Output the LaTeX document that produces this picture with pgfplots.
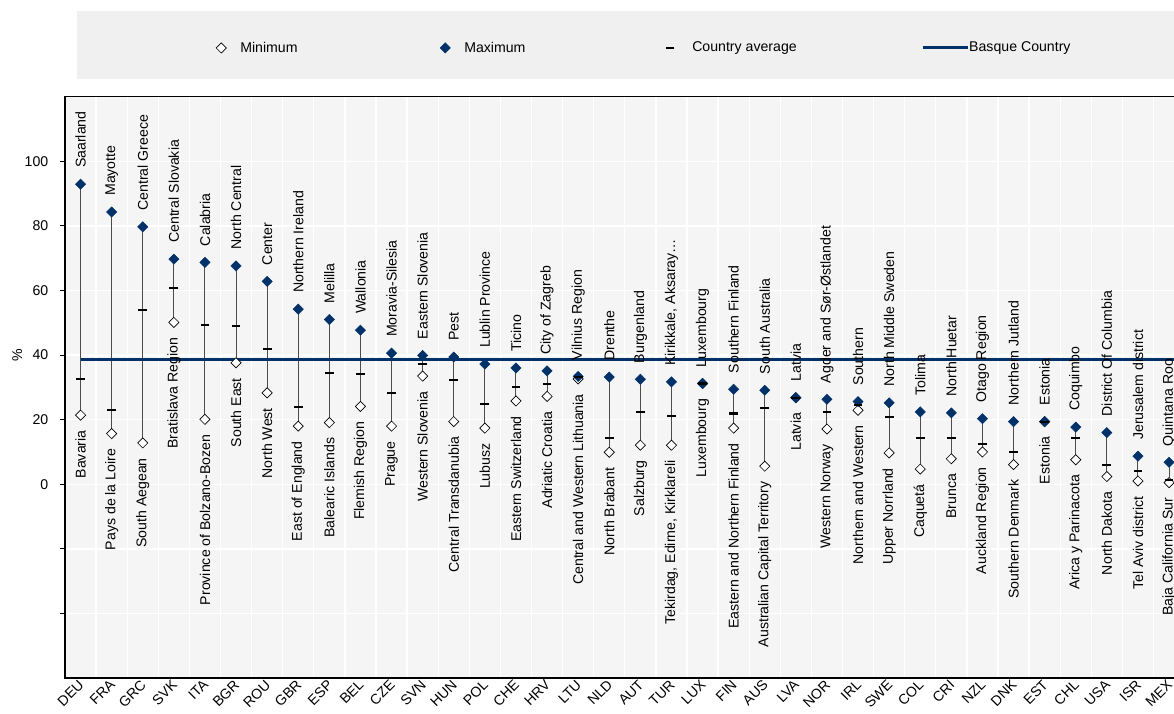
\documentclass[border=0pt]{standalone}
\usepackage{pgfplots}
\pgfplotsset{compat=1.18}
\usepackage{pgfplotstable}
\usepackage{fontspec}
\setmainfont{Liberation Sans}
\usetikzlibrary{backgrounds}

\definecolor{navy}{RGB}{0,50,105}
\definecolor{plotbg}{RGB}{245,245,245}
\definecolor{legbg}{RGB}{240,240,240}
\newcommand\lab{\fontsize{10.6}{12}\selectfont}

% min / country average / max per country, with region names
\pgfplotstableread[col sep=semicolon, row sep=\\]{
i;code;min;avg;max;minlab;maxlab\\
0;DEU;21.4;32.5;92.9;Bavaria;Saarland\\
1;FRA;15.7;23.0;84.3;Pays de la Loire;Mayotte\\
2;GRC;12.8;54.0;79.7;South Aegean;Central Greece\\
3;SVK;50.1;60.7;69.7;Bratislava Region;Central Slovakia\\
4;ITA;20.1;49.4;68.7;Province of Bolzano-Bozen;Calabria\\
5;BGR;37.6;49.0;67.6;South East;North Central\\
6;ROU;28.3;41.9;62.8;North West;Center\\
7;GBR;18.0;23.9;54.2;East of England;Northern Ireland\\
8;ESP;19.1;34.4;51.0;Balearic Islands;Melilla\\
9;BEL;24.1;34.1;47.7;Flemish Region;Wallonia\\
10;CZE;18.0;28.2;40.6;Prague;Moravia-Silesia\\
11;SVN;33.5;37.2;39.9;Western Slovenia;Eastern Slovenia\\
12;HUN;19.4;32.4;39.4;Central Transdanubia;Pest\\
13;POL;17.4;24.9;37.2;Lubusz;Lublin Province\\
14;CHE;25.8;30.1;36.0;Eastern Switzerland;Ticino\\
15;HRV;27.2;31.0;35.1;Adriatic Croatia;City of Zagreb\\
16;LTU;32.6;33.1;33.4;Central and Western Lithuania;Vilnius Region\\
17;NLD;9.9;14.4;33.2;North Brabant;Drenthe\\
18;AUT;12.1;22.5;32.5;Salzburg;Burgenland\\
19;TUR;12.1;21.1;31.7;Tekirdag, Edirne, Kirklareli;Kirikkale, Aksaray…\\
20;LUX;31.2;31.2;31.2;Luxembourg;Luxembourg\\
21;FIN;17.4;21.9;29.4;Eastern and Northern Finland;Southern Finland\\
22;AUS;5.6;23.5;29.1;Australian Capital Territory;South Australia\\
23;LVA;26.8;26.8;26.8;Latvia;Latvia\\
24;NOR;17.1;22.3;26.3;Western Norway;Agder and Sør-Østlandet\\
25;IRL;22.9;24.5;25.6;Northern and Western;Southern\\
26;SWE;9.7;20.8;25.2;Upper Norrland;North Middle Sweden\\
27;COL;4.7;14.4;22.4;Caquetá;Tolima\\
28;CRI;7.9;14.3;22.1;Brunca;North Huetar\\
29;NZL;10.0;12.4;20.3;Auckland Region;Otago Region\\
30;DNK;6.1;9.9;19.4;Southern Denmark;Northern Jutland\\
31;EST;19.4;19.4;19.4;Estonia;Estonia\\
32;CHL;7.6;14.4;17.7;Arica y Parinacota;Coquimbo\\
33;USA;2.4;6.0;16.0;North Dakota;District Of Columbia\\
34;ISR;1.0;4.2;8.7;Tel Aviv district;Jerusalem district\\
35;MEX;0.5;1.4;6.8;Baja California Sur;Quintana Roo\\
}\data

\pgfplotsset{
  minleg/.style={legend image code/.code={\path[draw=none,fill=none] (0pt,-4pt) rectangle (20pt,4pt);
      \draw[only marks, mark=square*, mark size=2.7pt,
        mark options={rotate=45, fill=white, draw=black, line width=0.5pt}]
        plot coordinates {(5.75pt,0pt)};}},
  maxleg/.style={legend image code/.code={\path[draw=none,fill=none] (0pt,-4pt) rectangle (20pt,4pt);
      \draw[only marks, mark=square*, mark size=2.7pt,
        mark options={rotate=45, fill=navy, draw=navy}]
        plot coordinates {(5.75pt,0pt)};}},
  avgleg/.style={legend image code/.code={\path[draw=none,fill=none] (0pt,-4pt) rectangle (20pt,4pt);
      \draw[only marks, mark=-, mark size=3pt, mark options={line width=1.6pt, black}]
        plot coordinates {(3.5pt,0pt)};}},
  basleg/.style={legend image code/.code={\draw[navy, line width=2.2pt] (0pt,0pt) -- (33.75pt,0pt);}},
}

\begin{document}
\begin{tikzpicture}
\begin{axis}[
    x=23.325pt, y=2.4225pt,
    xmin=-0.5, xmax=35.5, ymin=-60, ymax=120,
    axis background/.style={fill=plotbg},
    axis line style={line width=0.9pt},
    xtick={0,...,35},
    xticklabels={DEU,FRA,GRC,SVK,ITA,BGR,ROU,GBR,ESP,BEL,CZE,SVN,HUN,POL,CHE,HRV,LTU,NLD,AUT,TUR,LUX,FIN,AUS,LVA,NOR,IRL,SWE,COL,CRI,NZL,DNK,EST,CHL,USA,ISR,MEX},
    xtick style={draw=none},
    minor xtick={0.5,1.5,...,34.5},
    minor tick length=0pt,
    xminorgrids=true,
    minor x grid style={white, line width=1pt},
    ytick={-40,-20,0,20,40,60,80,100},
    yticklabels={,,0,20,40,60,80,100},
    ymajorgrids=true,
    y grid style={white, line width=1pt},
    tick align=outside,
    major tick length=4pt,
    ytick style={black, line width=0.6pt},
    tick label style={font=\lab, black},
    x tick label style={rotate=45, anchor=north east, inner sep=1pt, yshift=5pt, xshift=2pt},
    y tick label style={xshift=-5pt},
    ylabel={\%},
    ylabel shift=-5pt,
    ylabel style={at={(ticklabel cs:0.5556)}, font=\lab},
    legend columns=4,
    legend cell align=left,
    legend style={at={(axis description cs:0.13249,1.0838)}, anchor=west,
        draw=none, fill=none, inner sep=0pt, column sep=0pt,
        nodes={inner sep=0pt, text depth=0.15em, font=\lab}},
]
% legend
\addlegendimage{minleg}
\addlegendentry{\makebox[148pt][l]{Minimum}}
\addlegendimage{maxleg}
\addlegendentry{\makebox[151pt][l]{Maximum}}
\addlegendimage{avgleg}
\addlegendentry{\makebox[171.75pt][l]{Country average}}
\addlegendimage{basleg}
\addlegendentry{Basque Country}

% range lines from min to max
\addplot[forget plot, draw=none, mark=none,
    error bars/.cd, y dir=both, y explicit, error mark=none,
    error bar style={draw=black!70, line width=0.75pt}]
    table[x=i, y=avg,
        y error plus expr=\thisrow{max}-\thisrow{avg},
        y error minus expr=\thisrow{avg}-\thisrow{min}] {\data};
% Basque Country
\addplot[forget plot, navy, line width=2.2pt] coordinates {(0,38.5) (35.5,38.5)};
% minimum
\addplot[forget plot, only marks, mark=square*, mark size=2.7pt,
    mark options={rotate=45, fill=white, draw=black, line width=0.5pt}]
    table[x=i, y=min] {\data};
% maximum
\addplot[forget plot, only marks, mark=square*, mark size=2.7pt,
    mark options={rotate=45, fill=navy, draw=navy}]
    table[x=i, y=max] {\data};
% country average
\addplot[forget plot, only marks, mark=-, mark size=3.3pt,
    mark options={line width=1.6pt, black}]
    table[x=i, y=avg] {\data};
% region names
\addplot[forget plot, only marks, mark=none,
    nodes near coords, point meta=explicit symbolic,
    nodes near coords style={rotate=90, anchor=west, inner xsep=12pt, inner ysep=0pt, font=\lab, black}]
    table[x=i, y=max, meta=maxlab] {\data};
\addplot[forget plot, only marks, mark=none,
    nodes near coords, point meta=explicit symbolic,
    nodes near coords style={rotate=90, anchor=east, inner xsep=11.25pt, inner ysep=0pt, font=\lab, black}]
    table[x=i, y=min, meta=minlab] {\data};
\end{axis}
\begin{pgfonlayer}{background}
\fill[legbg] ([xshift=9pt,yshift=13.3pt]current axis.north west) rectangle ([xshift=900pt,yshift=64.3pt]current axis.north west);
\end{pgfonlayer}
\pgfresetboundingbox
\path[use as bounding box] ([xshift=-48.75pt,yshift=-26.5pt]current axis.south west) rectangle ([xshift=831.75pt,yshift=72.5pt]current axis.north west);
\end{tikzpicture}
\end{document}
